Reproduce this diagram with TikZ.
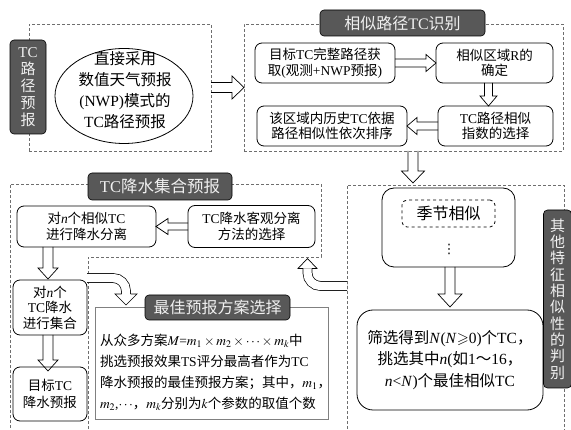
\documentclass[tikz,border=0pt]{standalone}
\usepackage{mathptmx}
\usepackage{amssymb}
\usepackage{fontspec}
\setmainfont{Liberation Serif}
\newfontfamily\cjk{Noto Sans CJK SC}
\newfontfamily\dejavu{DejaVu Sans}
\usetikzlibrary{calc,shapes.geometric}
\XeTeXinterchartokenstate=1
\newXeTeXintercharclass\CJKcls
\newcount\cjkc
\cjkc="3000 \loop\ifnum\cjkc<"3040 \XeTeXcharclass\cjkc=\CJKcls \advance\cjkc 1 \repeat
\cjkc="4E00 \loop\ifnum\cjkc<"A000 \XeTeXcharclass\cjkc=\CJKcls \advance\cjkc 1 \repeat
\cjkc="FF00 \loop\ifnum\cjkc<"FFF0 \XeTeXcharclass\cjkc=\CJKcls \advance\cjkc 1 \repeat
\XeTeXinterchartoks 0 \CJKcls={\cjk}
\XeTeXinterchartoks 4095 \CJKcls={\cjk}
\XeTeXinterchartoks \CJKcls 0={\rmfamily}
\XeTeXinterchartoks \CJKcls 4095={\rmfamily}
\definecolor{darkfill}{HTML}{585858}
\definecolor{labeltext}{HTML}{F0F0F0}
\definecolor{dashgray}{HTML}{6E6E6E}
% hollow head for curved arrows
\newcommand\ahead[5]{\draw[line width=0.7pt, shift={#1}, rotate=#2] (-#5,#3) -- (-#5,#4) -- (0pt,0pt) -- (-#5,-#4) -- (-#5,-#3);}
% straight hollow block arrow: start, tip, direction angle, half shaft, half head, head length
\newcommand\barrow[6]{\draw[line width=0.7pt, line join=miter] ($(#1)+({#3+90}:#4)$) -- ($(#2)+({#3+180}:#6)+({#3+90}:#4)$) -- ($(#2)+({#3+180}:#6)+({#3+90}:#5)$) -- (#2) -- ($(#2)+({#3+180}:#6)+({#3-90}:#5)$) -- ($(#2)+({#3+180}:#6)+({#3-90}:#4)$) -- ($(#1)+({#3-90}:#4)$);}
\begin{document}
\begin{tikzpicture}[x=1pt,y=-1pt,
  every node/.style={inner sep=0pt, outer sep=0pt},
  dashbox/.style={draw=dashgray, dash pattern=on 3pt off 2pt, line width=0.7pt},
  stepbox/.style={draw, line width=0.8pt, rounded corners=7pt, align=center, font=\fontsize{13.5}{15.5}\selectfont},
  darklabel/.style={draw=black, line width=0.6pt, fill=darkfill, rounded corners=4pt, text=labeltext, align=center, font=\fontsize{16}{16}\selectfont},
  shaft/.style={line width=0.7pt, draw=black, double=white, double distance=#1},
]
\useasboundingbox (0,0) rectangle (571,430);
% dashed groups
\node[dashbox, minimum width=182pt, minimum height=127pt] (g1) at (120,87.5) {};
\node[dashbox, minimum width=319pt, minimum height=127pt] (g2) at (403.5,87.5) {};
\draw[dashbox] (88,434) -- (88,257) -- (321,257) -- (321,184) -- (10,184) -- (10,434);
\draw[dashbox] (347,434) -- (347,185) -- (564,185) -- (564,434);
% nodes
\node[ellipse, draw, line width=0.8pt, minimum width=138pt, minimum height=95pt] (E) at (124,96) {};
\node[align=center, font=\fontsize{15.5}{21}\selectfont] (Et) at (125,90) {直接采用\\数值天气预报\\(NWP)模式的\\TC路径预报};
\node[stepbox, minimum width=140pt, minimum height=40pt] (A) at (325,63) {目标TC完整路径获\\取(观测+NWP预报)};
\node[stepbox, minimum width=117pt, minimum height=40pt] (B) at (494.5,63) {相似区域R的\\确定};
\node[stepbox, minimum width=115pt, minimum height=40pt] (C) at (495.5,126) {TC路径相似\\指数的选择};
\node[stepbox, minimum width=150pt, minimum height=40pt] (D) at (332,126) {该区域内历史TC依据\\路径相似性依次排序};
\node[stepbox, minimum width=139pt, minimum height=41pt] (P1) at (86.5,226.5) {对\textit{n}个相似TC\\进行降水分离};
\node[stepbox, minimum width=127pt, minimum height=42pt] (P2) at (251.5,226.5) {TC降水客观分离\\方法的选择};
\node[stepbox, minimum width=74pt, minimum height=55pt] (P3) at (50,307.5) {对\textit{n}个\\TC降水\\进行集合};
\node[stepbox, minimum width=74pt, minimum height=54pt, font=\fontsize{13.5}{16.5}\selectfont] (P4) at (50,394) {目标TC\\降水预报};
\node[draw=gray, line width=0.8pt, minimum width=233pt, minimum height=112pt] (S) at (211.5,363) {};
\node[anchor=west, align=left, font=\fontsize{13.5}{21}\selectfont] (St) at (100,372) {从众多方案$M$=$m_1\times m_2\times\cdots\times m_k$中\\挑选预报效果TS评分最高者作为TC\\降水预报的最佳预报方案；其中，$m_1$，\\$m_2$,$\cdots$，$m_k$分别为$k$个参数的取值个数};
\node[stepbox, rounded corners=12pt, minimum width=133pt, minimum height=79pt] (R1) at (448.5,227.5) {};
\node[draw, dashed, rounded corners=5pt, line width=0.8pt, minimum width=93pt, minimum height=27pt, font=\fontsize{16}{16}\selectfont] (R1a) at (448.5,213.5) {季节相似};
\node[font=\dejavu\fontsize{13}{13}\selectfont] (R1b) at (449,249) {⋮};
\node[stepbox, rounded corners=16pt, minimum width=186pt, minimum height=100pt, font=\fontsize{15.5}{21.5}\selectfont] (R2) at (450,360) {筛选得到\textit{N}(\textit{N}$\geqslant$0)个TC，\\挑选其中\textit{n}(如1～16，\\\textit{n}<\textit{N})个最佳相似TC};
% arrow end points
\coordinate (b3) at ($(B.south)+(-6,0)$);
\coordinate (t3) at ($(C.north)+(-7,0)$);
\coordinate (s5) at ($(g2.south)+(9.5,0)$);
\coordinate (t5) at ($(s5)+(0,32)$);
\coordinate (s6) at ($(R1.south)+(1.5,0)$);
\coordinate (t6) at ($(R2.north)+(0,-3)$);
\coordinate (s7) at ($(P1.south west)+(31,0)$);
\coordinate (t7) at ($(P3.north west)+(35,-1)$);
\coordinate (s8) at ($(P3.south west)+(35,0)$);
\coordinate (t8) at ($(P4.north west)+(35,4)$);
\coordinate (c9) at ($(P3.north east)+(0,-2)$);
\coordinate (t9) at ($(S.north west)+(31,-2)$);
\coordinate (c10) at (347,286);
\coordinate (t10) at ($(P2.south east)+(-7.5,11)$);
% straight arrows
\barrow{g1.east}{g2.west}{0}{5pt}{11.5pt}{12pt}
\barrow{A.east}{B.west}{0}{4pt}{8.5pt}{10pt}
\barrow{b3}{t3}{-90}{4pt}{8.5pt}{10pt}
\barrow{C.west}{D.east}{180}{4pt}{8.5pt}{10pt}
\barrow{s5}{t5}{-90}{5pt}{11.5pt}{12pt}
\barrow{s6}{t6}{-90}{5pt}{12pt}{13pt}
\barrow{P2.west}{P1.east}{180}{3.5pt}{8pt}{12pt}
\barrow{s7}{t7}{-90}{5pt}{10pt}{11pt}
\barrow{s8}{t8}{-90}{5pt}{10pt}{11pt}
% curved arrows
\draw[shaft=8.3pt, rounded corners=13pt] (c9) -| ($(t9)+(0pt,11pt)$);
\ahead{(t9)}{-90}{4.5pt}{11pt}{11pt}
\draw[shaft=8.3pt, rounded corners=13pt] (c10) -| ($(t10)+(0pt,-10pt)$);
\ahead{(t10)}{90}{4.5pt}{9.5pt}{10pt}
% labels
\node[darklabel, minimum width=36pt, minimum height=94pt, font=\fontsize{15}{17}\selectfont] (L1) at (28,87) {TC\\路\\径\\预\\报};
\node[darklabel, minimum width=165pt, minimum height=26pt] (T2) at (402.5,23) {相似路径TC识别};
\node[darklabel, minimum width=144pt, minimum height=27pt, font=\fontsize{16.5}{16.5}\selectfont] (T3) at (160,186.5) {TC降水集合预报};
\node[darklabel, minimum width=145pt, minimum height=25pt] (T4) at (217.5,307.5) {最佳预报方案选择};
\node[darklabel, minimum width=28pt, minimum height=178pt, font=\fontsize{15}{16.3}\selectfont] (T5) at (557.5,299) {其\\他\\特\\征\\相\\似\\性\\的\\判\\别};
\end{tikzpicture}
\end{document}
